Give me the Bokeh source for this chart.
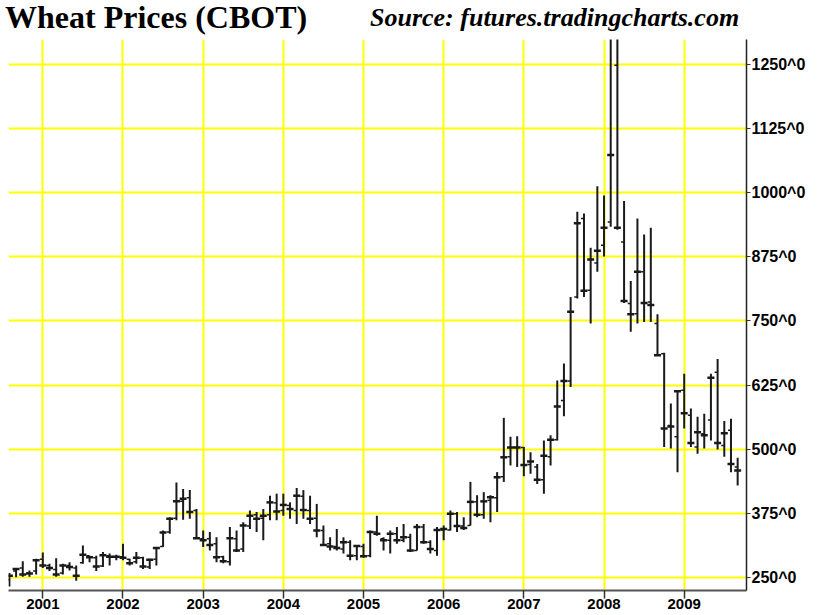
import pandas as pd
from bokeh.plotting import figure
from bokeh.layouts import column
from bokeh.models import FixedTicker, Range1d, Div
from bokeh.embed import file_html
from bokeh.resources import INLINE

# Monthly bars, Aug 2000 .. Sep 2009
months = pd.date_range("2000-08-01", periods=110, freq="MS")

opens = [245, 262, 268, 258, 262,
         285, 273, 265, 258, 273, 268, 278, 292, 288, 272, 292, 290,
         290, 285, 280, 288, 270, 285, 310, 338, 365, 398, 405, 380,
         325, 325, 315, 290, 280, 325, 305, 350, 372, 365, 372, 395,
         380, 390, 380, 408, 380, 365, 341, 315, 310, 305, 318, 292,
         310, 292, 338, 325, 322, 335, 322, 328, 302, 348, 318, 302,
         342, 342, 374, 350, 351, 397, 372, 400, 405, 446, 485, 503,
         503, 470, 465, 440, 485, 518, 595, 633, 797, 950, 810, 863,
         898, 943, 1249, 904, 784, 764, 846, 787, 745, 686, 546, 524,
         615, 566, 504, 530, 557, 650, 507, 537, 465]
highs = [258, 268, 281, 263, 286,
         298, 276, 287, 276, 279, 273, 312, 292, 292, 299, 296, 294,
         315, 286, 299, 290, 286, 309, 341, 367, 435, 422, 420, 383,
         341, 338, 328, 292, 348, 341, 357, 380, 377, 383, 409, 413,
         413, 396, 424, 420, 409, 393, 351, 328, 344, 328, 322, 312,
         315, 341, 370, 328, 341, 348, 354, 335, 354, 354, 322, 348,
         351, 380, 377, 367, 436, 410, 416, 410, 455, 561, 524, 525,
         504, 494, 471, 517, 527, 634, 667, 797, 963, 960, 893, 1013,
         995, 1340, 1320, 984, 828, 950, 919, 932, 763, 688, 589, 615,
         647, 579, 563, 569, 647, 676, 555, 559, 483]
lows = [232, 250, 251, 251, 255,
        268, 262, 251, 255, 263, 243, 276, 279, 262, 270, 273, 283,
        283, 273, 276, 266, 266, 273, 309, 335, 361, 362, 364, 325,
        309, 302, 279, 277, 273, 299, 299, 344, 338, 322, 361, 361,
        370, 364, 354, 364, 354, 328, 312, 302, 302, 296, 283, 283,
        288, 289, 331, 302, 296, 315, 318, 299, 302, 315, 296, 292,
        322, 341, 338, 342, 351, 367, 364, 357, 377, 436, 468, 465,
        447, 452, 432, 413, 468, 517, 564, 621, 794, 797, 745, 846,
        876, 934, 928, 785, 729, 745, 748, 748, 683, 504, 501, 455,
        540, 504, 491, 501, 517, 499, 485, 455, 429]
closes = [253, 266, 255, 257, 283,
          273, 268, 255, 273, 270, 253, 294, 289, 271, 293, 290, 290,
          288, 277, 288, 271, 284, 307, 337, 364, 398, 403, 377, 326,
          322, 313, 289, 281, 326, 302, 351, 370, 364, 370, 396, 378,
          391, 383, 409, 381, 364, 341, 313, 310, 307, 318, 292, 311,
          291, 338, 335, 322, 335, 322, 328, 302, 348, 318, 305, 342,
          344, 374, 350, 346, 397, 372, 398, 406, 445, 484, 503, 503,
          469, 476, 440, 487, 518, 583, 633, 768, 941, 809, 870, 887,
          932, 1074, 932, 789, 763, 846, 785, 781, 683, 540, 544, 613,
          570, 512, 533, 527, 639, 512, 531, 471, 458]

year_ticks = [2001, 2002, 2003, 2004, 2005, 2006, 2007, 2008, 2009]
year_labels = ["2001", "2002", "2003", "2004", "2005", "2006", "2007", "2008", "2009"]
price_ticks = [250, 375, 500, 625, 750, 875, 1000, 1125, 1250]
price_labels = ["250^0", "375^0", "500^0", "625^0", "750^0", "875^0",
                "1000^0", "1125^0", "1250^0"]

title_text = "Wheat Prices (CBOT)"
source_text = "Source: futures.tradingcharts.com"

# x position: fractional year at the start of each month
xs = [m.year + (m.month - 1) / 12.0 for m in months]
tick_len = 0.45 / 12.0  # open tick length (styling)
xs_open = [x - tick_len for x in xs]

# ---- title row -------------------------------------------------------------
head = Div(
    text=(
        '<div style="position:relative;width:818px;height:39px;">'
        '<span style="position:absolute;left:5px;top:0px;white-space:nowrap;'
        "font-family:'Liberation Serif';font-weight:bold;font-size:32px;"
        'line-height:34px;color:#000;">' + title_text + '</span>'
        '<span style="position:absolute;left:370px;top:3px;white-space:nowrap;'
        "font-family:'Liberation Serif';font-weight:bold;font-style:italic;"
        'font-size:26px;line-height:30px;color:#000;">' + source_text + '</span>'
        '</div>'
    ),
    width=818, height=39, margin=(0, 0, 0, 0),
)

# ---- chart -----------------------------------------------------------------
p = figure(width=818, height=575, output_backend="svg", toolbar_location=None,
           x_range=Range1d(2000.572, 2009.777), y_range=Range1d(224, 1299.4),
           y_axis_location="right",
           min_border_left=8, min_border_right=72, min_border_top=0,
           min_border_bottom=24, margin=(0, 0, 0, 0))
p.outline_line_color = None
p.background_fill_color = "white"
p.border_fill_color = "white"

# grid
p.xgrid.ticker = FixedTicker(ticks=year_ticks)
p.ygrid.ticker = FixedTicker(ticks=price_ticks)
p.grid.grid_line_color = "#ffff00"
p.grid.grid_line_width = 2

# bottom axis
xa = p.xaxis[0]
xa.ticker = FixedTicker(ticks=year_ticks)
xa.major_label_overrides = {t: l for t, l in zip(year_ticks, year_labels)}
xa.axis_line_color = "#555555"
xa.axis_line_width = 2
xa.major_tick_line_color = "#333333"
xa.major_tick_line_width = 1.5
xa.major_tick_in = 0
xa.major_tick_out = 8
xa.minor_tick_line_color = None
xa.major_label_text_align = "left"
xa.major_label_standoff = 0
xa.major_label_text_font = "Liberation Sans"
xa.major_label_text_font_style = "bold"
xa.major_label_text_font_size = "15px"
xa.major_label_text_color = "black"

# right axis
ya = p.yaxis[0]
ya.ticker = FixedTicker(ticks=price_ticks)
ya.major_label_overrides = {t: l for t, l in zip(price_ticks, price_labels)}
ya.axis_line_color = "#222222"
ya.axis_line_width = 1.5
ya.major_tick_line_color = "#333333"
ya.major_tick_line_width = 1
ya.major_tick_in = 0
ya.major_tick_out = 4
ya.minor_tick_line_color = None
ya.major_label_standoff = 1
ya.major_label_text_font = "Liberation Sans"
ya.major_label_text_font_style = "bold"
ya.major_label_text_font_size = "16px"
ya.major_label_text_color = "black"

# OHLC bars
bar_color = "#1a1a1a"
p.segment(x0=xs, y0=lows, x1=xs, y1=highs, line_color=bar_color, line_width=2)
p.segment(x0=xs_open, y0=opens, x1=xs, y1=opens, line_color=bar_color, line_width=1.5)
p.scatter(x=xs, y=closes, marker="dash", size=7, line_color=bar_color, line_width=2.5)

layout = column(head, p, spacing=0)
open("out.html", "w").write(file_html(layout, INLINE))
